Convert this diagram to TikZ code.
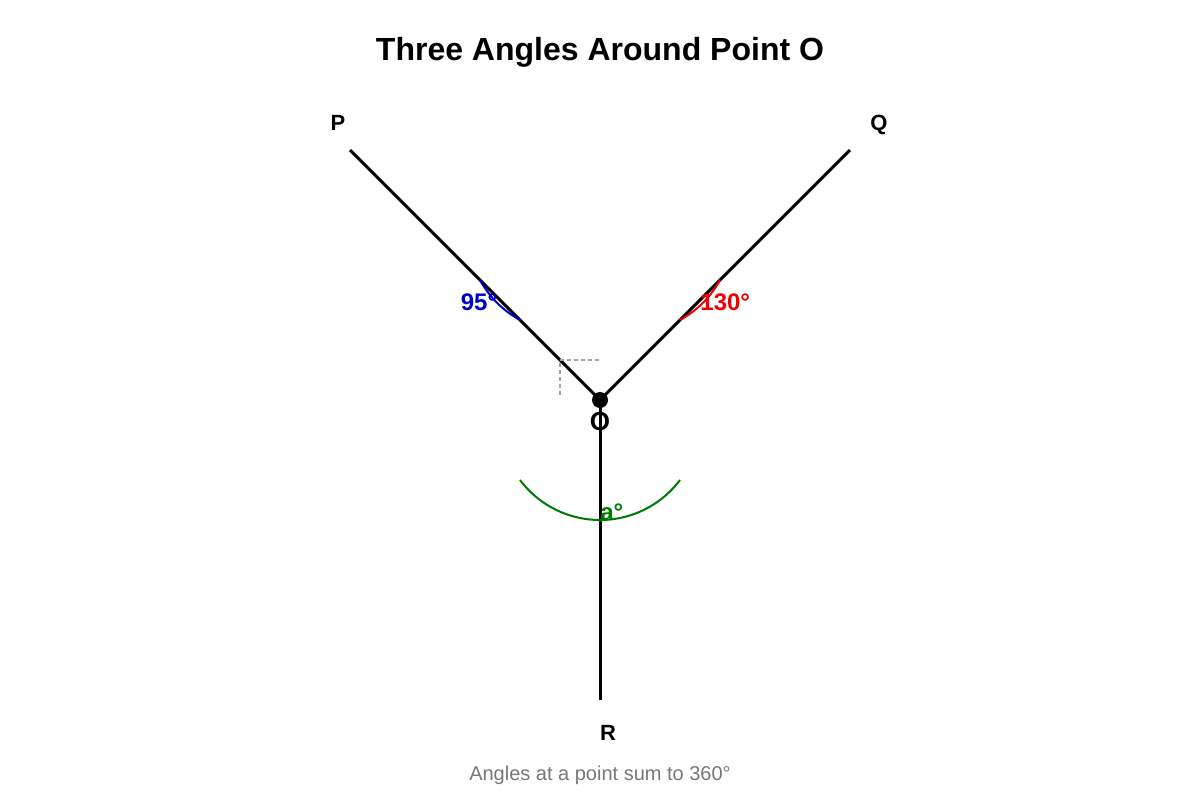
\documentclass[tikz,border=0pt]{standalone}
\usepackage{fontspec}
\setmainfont{Liberation Sans}
\definecolor{angblue}{HTML}{0000CC}
\definecolor{angred}{HTML}{EE0000}
\definecolor{anggreen}{HTML}{007A00}
\definecolor{subgray}{HTML}{777777}
\begin{document}
\begin{tikzpicture}[x=0.5pt,y=-0.5pt,
  ray/.style={line width=1.5pt,black},
  angarc/.style={line width=1pt},
  lbl/.style={inner sep=0pt,font=\fontsize{11}{13}\selectfont\bfseries},
  anglbl/.style={inner sep=0pt,font=\fontsize{12}{14}\selectfont\bfseries}]
\useasboundingbox (0,0) rectangle (1200,800);
\node[inner sep=0pt,anchor=base,font=\fontsize{16}{19}\selectfont\bfseries] (title) at (600,60) {Three Angles Around Point O};
\coordinate (O) at (600,400);
\coordinate (P) at (350,150);
\coordinate (Q) at (850,150);
\coordinate (R) at (600,700);
\draw[ray] (O) -- (P);
\draw[ray] (O) -- (Q);
\draw[ray] (O) -- (R);
% right-angle marker
\coordinate (m1) at (560,395);
\coordinate (m2) at (560,360);
\coordinate (m3) at (600,360);
\draw[subgray!70,line width=0.6pt,dash pattern=on 2pt off 1.5pt] (m1) -- (m2) -- (m3);
% angle arcs
\coordinate (b1) at (480,280);
\coordinate (r1) at (720,280);
\coordinate (g1) at (520,480);
\draw[angarc,angblue] (b1) arc[start angle=151.4, end angle=118.6, radius=100];
\draw[angarc,angred] (r1) arc[start angle=28.6, end angle=61.4, radius=100];
\draw[angarc,anggreen] (g1) arc[start angle=143.13, end angle=36.87, radius=100];
\fill (O) circle[radius=8];
\node[inner sep=0pt,anchor=base,font=\fontsize{13}{15}\selectfont\bfseries] (Olbl) at (600,430) {O};
\node[lbl,anchor=base] (Plbl) at (338,130) {P};
\node[lbl,anchor=base] (Qlbl) at (879,130) {Q};
\node[lbl,anchor=base] (Rlbl) at (608,740) {R};
\node[anglbl,anchor=base,text=angblue] (l95) at (479,310) {95°};
\node[anglbl,anchor=base west,text=angred] (l130) at (700,310) {130°};
\node[anglbl,anchor=base west,text=anggreen] (la) at (600,520) {a°};
\node[inner sep=0pt,anchor=base,text=subgray,font=\fontsize{10}{12}\selectfont] (sub) at (600,780) {Angles at a point sum to 360°};
\end{tikzpicture}
\end{document}
